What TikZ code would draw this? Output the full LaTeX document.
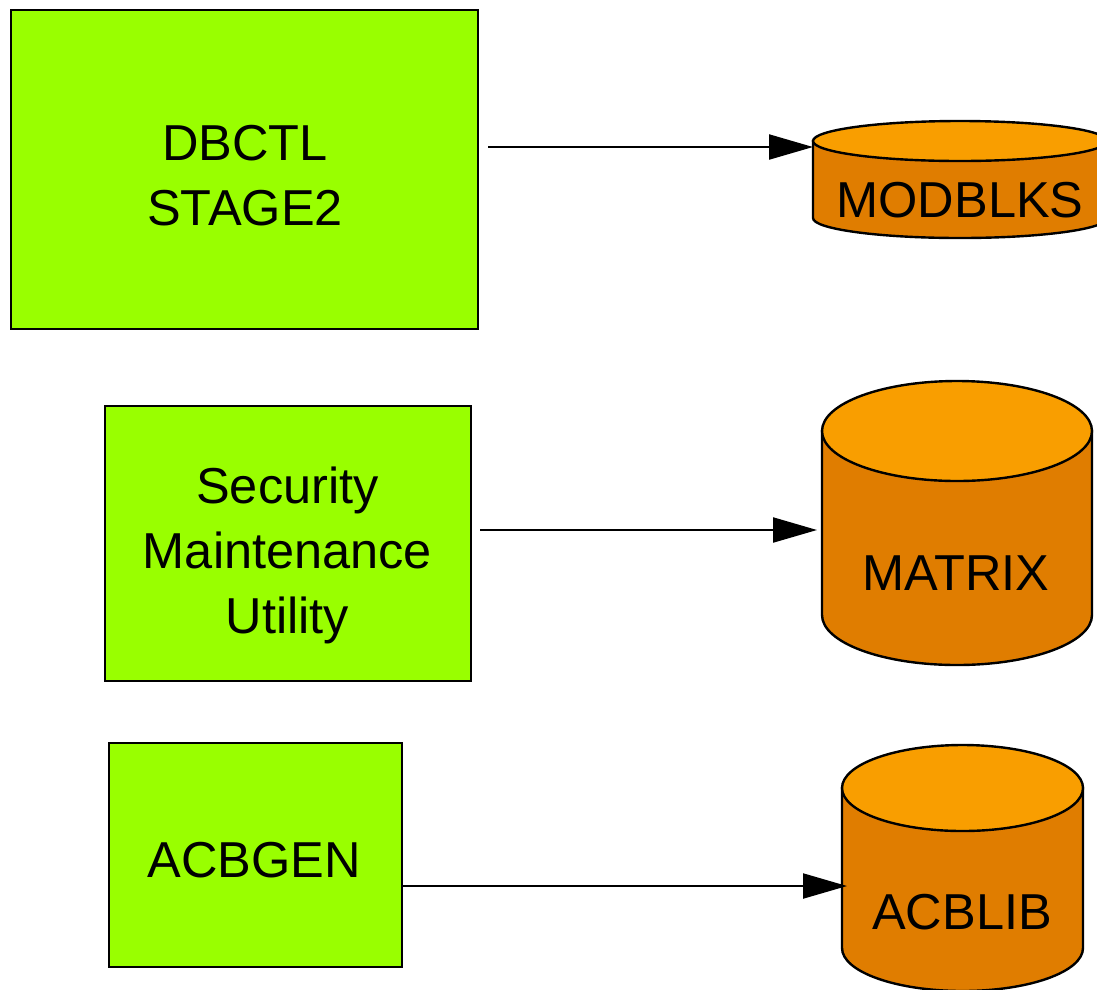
\documentclass[tikz,border=0pt]{standalone}
\usepackage{fontspec}
\setmainfont{Liberation Sans}
\usetikzlibrary{arrows.meta}
\definecolor{boxgreen}{RGB}{153,255,0}
\definecolor{cyltopc}{RGB}{249,158,0}
\definecolor{cylsidec}{RGB}{224,125,0}
\tikzset{
  gbox/.style={draw=black, fill=boxgreen, line width=2.4pt, inner sep=0pt, anchor=north west},
  lbl/.style={font=\fontsize{50.5}{65}\selectfont, align=center, inner sep=0pt, anchor=north, text=black},
  cylside/.style={draw=black, fill=cylsidec, line width=2.4pt},
  cyltop/.style={draw=black, fill=cyltopc, line width=2.4pt},
  conn/.style={draw=black, line width=2.2pt, -{Triangle[length=44pt,width=25pt]}},
}
\newcommand\dbcyl[5]{% cx, y of top centre, y of bottom centre, rx, ry
  \filldraw[cylside] (#1-#4,#2) -- (#1-#4,#3) arc[start angle=180,end angle=360,x radius=#4pt,y radius=#5pt] -- (#1+#4,#2) -- cycle;
  \filldraw[cyltop] (#1,#2) ellipse[x radius=#4pt,y radius=#5pt];
}
\begin{document}
\begin{tikzpicture}[x=1pt,y=-1pt]
\useasboundingbox (0,0) rectangle (1097,989);
\clip (0,0) rectangle (1097,989);
% boxes
\node[gbox, minimum width=467pt, minimum height=319pt] (b1) at (10,9) {};
\node[gbox, minimum width=366pt, minimum height=275pt] (b2) at (104,405) {};
\node[gbox, minimum width=293pt, minimum height=224pt] (b3) at (108,742) {};
\node[lbl] (t1) at (245,125.5) {DBCTL\\STAGE2};
\node[lbl] (t2) at (287.5,466.5) {Security\\Maintenance\\Utility};
\node[lbl] (t3) at (254,842) {ACBGEN};
% cylinders
\dbcyl{960}{141}{218}{147}{20}
\dbcyl{957}{431}{615}{135}{50}
\dbcyl{962.5}{788}{948}{120.5}{43}
\node[lbl] (c1) at (960,182) {MODBLKS};
\node[lbl] (c2) at (956,555.5) {MATRIX};
\node[lbl] (c3) at (962,894.5) {ACBLIB};
% connectors
\coordinate (a1s) at (488,147);
\coordinate (a1e) at (813,147);
\coordinate (a2s) at (480,530);
\coordinate (a2e) at (817,530);
\coordinate (a3s) at (401,886);
\coordinate (a3e) at (847,886);
\draw[conn] (a1s) -- (a1e);
\draw[conn] (a2s) -- (a2e);
\draw[conn] (a3s) -- (a3e);
\end{tikzpicture}
\end{document}
